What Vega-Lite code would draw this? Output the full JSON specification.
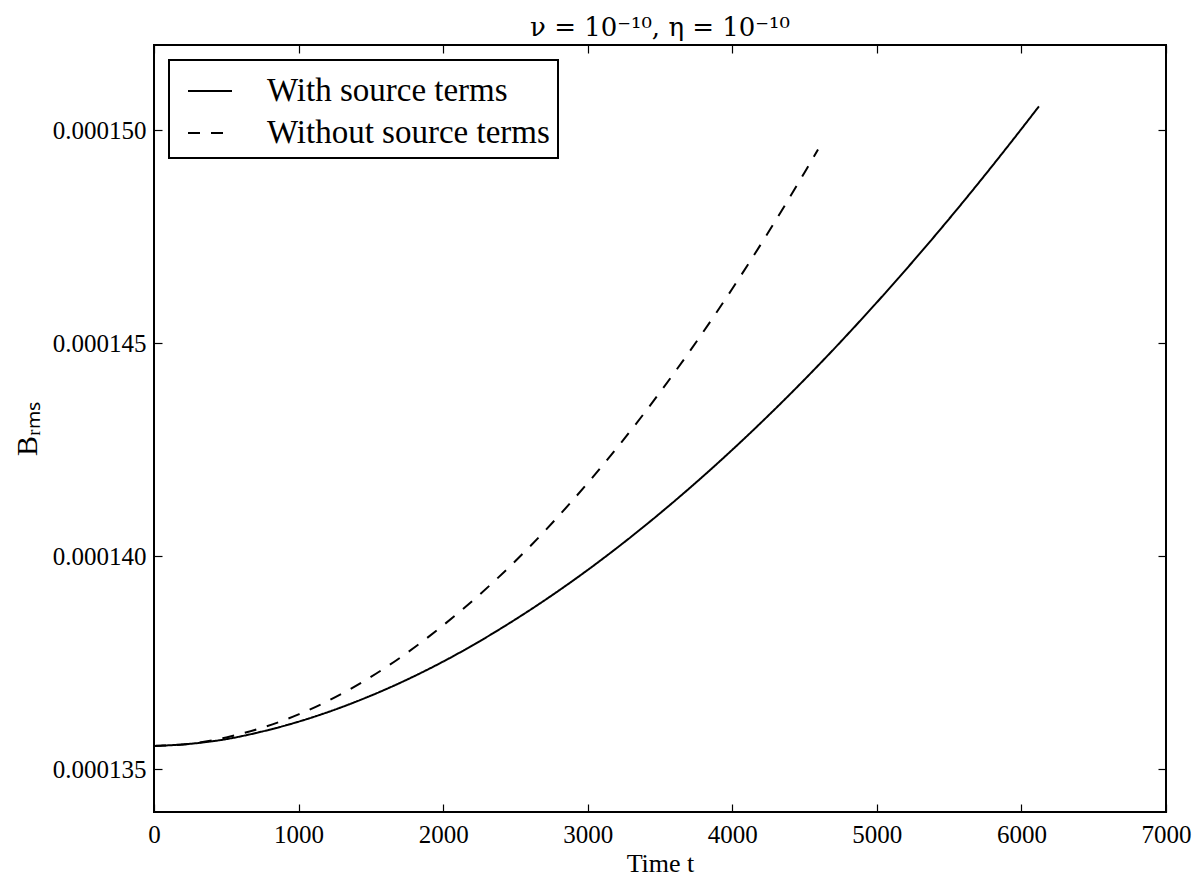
{
  "$schema": "https://vega.github.io/schema/vega-lite/v6.json",
  "width": 1012,
  "height": 767,
  "autosize": "none",
  "padding": {"left": 154, "top": 45, "right": 35, "bottom": 66},
  "background": "white",
  "title": {
    "text": "ν = 10⁻¹⁰, η = 10⁻¹⁰",
    "font": "DejaVu Serif",
    "fontSize": 26,
    "fontWeight": "normal",
    "color": "black",
    "anchor": "middle",
    "offset": 3
  },
  "data": {
    "values": [
      {"t": 0, "B": 0.00013555, "series": "With source terms"},
      {"t": 250, "B": 0.0001356, "series": "With source terms"},
      {"t": 500, "B": 0.00013571, "series": "With source terms"},
      {"t": 750, "B": 0.00013589, "series": "With source terms"},
      {"t": 1000, "B": 0.00013612, "series": "With source terms"},
      {"t": 1500, "B": 0.00013673, "series": "With source terms"},
      {"t": 2000, "B": 0.00013753, "series": "With source terms"},
      {"t": 2500, "B": 0.00013852, "series": "With source terms"},
      {"t": 3000, "B": 0.00013968, "series": "With source terms"},
      {"t": 3500, "B": 0.00014101, "series": "With source terms"},
      {"t": 4000, "B": 0.0001425, "series": "With source terms"},
      {"t": 4500, "B": 0.00014415, "series": "With source terms"},
      {"t": 5000, "B": 0.00014596, "series": "With source terms"},
      {"t": 5500, "B": 0.00014792, "series": "With source terms"},
      {"t": 6000, "B": 0.00015003, "series": "With source terms"},
      {"t": 6121, "B": 0.00015056, "series": "With source terms"},
      {"t": 0, "B": 0.00013555, "series": "Without source terms"},
      {"t": 250, "B": 0.0001356, "series": "Without source terms"},
      {"t": 500, "B": 0.00013575, "series": "Without source terms"},
      {"t": 750, "B": 0.00013598, "series": "Without source terms"},
      {"t": 1000, "B": 0.00013629, "series": "Without source terms"},
      {"t": 1500, "B": 0.00013717, "series": "Without source terms"},
      {"t": 2000, "B": 0.00013838, "series": "Without source terms"},
      {"t": 2500, "B": 0.00013989, "series": "Without source terms"},
      {"t": 3000, "B": 0.00014172, "series": "Without source terms"},
      {"t": 3500, "B": 0.00014385, "series": "Without source terms"},
      {"t": 4000, "B": 0.00014628, "series": "Without source terms"},
      {"t": 4500, "B": 0.00014901, "series": "Without source terms"},
      {"t": 4593, "B": 0.00014955, "series": "Without source terms"}
    ]
  },
  "layer": [
    {
      "mark": {"type": "line", "color": "black", "strokeWidth": 2, "clip": true, "interpolate": "monotone"},
      "encoding": {
        "x": {
          "field": "t", "type": "quantitative",
          "scale": {"domain": [0, 7000], "nice": false, "zero": false},
          "axis": {
            "title": "Time t", "orient": "bottom",
            "values": [0, 1000, 2000, 3000, 4000, 5000, 6000, 7000],
            "format": "d", "grid": false, "domain": false, "labelFlush": false,
            "tickSize": -8, "tickColor": "black", "tickWidth": 1.2,
            "labelPadding": 18, "titlePadding": 3, "titleFontSize": 26
          }
        },
        "y": {
          "field": "B", "type": "quantitative",
          "scale": {"domain": [0.000134, 0.000152], "nice": false, "zero": false},
          "axis": {
            "title": "Bᵣₘₛ", "orient": "left",
            "values": [0.000135, 0.00014, 0.000145, 0.00015],
            "format": ".6f", "grid": false, "domain": false, "labelFlush": false,
            "tickSize": -8, "tickColor": "black", "tickWidth": 1.2,
            "labelPadding": 16, "titlePadding": 10, "titleFontSize": 30
          }
        },
        "strokeDash": {
          "field": "series", "type": "nominal",
          "scale": {"domain": ["With source terms", "Without source terms"], "range": [[1, 0], [12, 11]]},
          "legend": {
            "title": null, "orient": "top-left", "offset": 15,
            "symbolType": "stroke", "symbolSize": 1936, "symbolStrokeWidth": 2,
            "symbolStrokeColor": "black", "symbolOffset": 10,
            "labelFont": "Liberation Serif", "labelFontSize": 33, "labelColor": "black",
            "labelLimit": 0, "labelOffset": 34,
            "padding": 8, "rowPadding": 2,
            "strokeColor": "black", "fillColor": "white"
          }
        }
      }
    },
    {
      "mark": {"type": "line", "opacity": 0},
      "encoding": {
        "x": {
          "field": "t", "type": "quantitative",
          "axis": {"orient": "top", "title": null, "labels": false, "domain": false, "grid": false,
                   "values": [0, 1000, 2000, 3000, 4000, 5000, 6000, 7000],
                   "tickSize": -8, "tickColor": "black", "tickWidth": 1.2}
        },
        "y": {
          "field": "B", "type": "quantitative",
          "axis": {"orient": "right", "title": null, "labels": false, "domain": false, "grid": false,
                   "values": [0.000135, 0.00014, 0.000145, 0.00015],
                   "tickSize": -8, "tickColor": "black", "tickWidth": 1.2}
        },
        "detail": {"field": "series", "type": "nominal"}
      }
    }
  ],
  "resolve": {"axis": {"x": "independent", "y": "independent"}},
  "config": {
    "view": {"stroke": "black", "strokeWidth": 2},
    "axis": {
      "labelFont": "Liberation Serif", "labelFontSize": 25, "labelColor": "black",
      "titleFont": "Liberation Serif", "titleFontSize": 24, "titleFontWeight": "normal", "titleColor": "black"
    },
    "legend": {"strokeWidth": 2}
  }
}
